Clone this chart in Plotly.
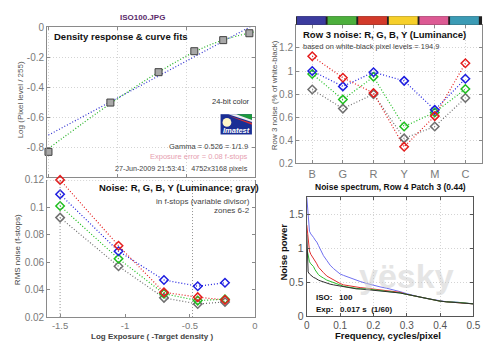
import plotly.graph_objects as go

W, H = 500, 353

# ---------------- data ----------------
exposure = [-1.5, -1.05, -0.70, -0.44, -0.23, -0.04]
log_pixel = [-0.832, -0.503, -0.30, -0.16, -0.086, -0.04]
fit_x = [-1.5, 0.0]
linear_fit = [-0.72, 0.02]
curve_fit_x = [-1.5, -1.05, -0.70, -0.44, -0.23, 0.0]
curve_fit = [-0.81, -0.51, -0.30, -0.165, -0.085, -0.03]

noise_exposure = [-1.5, -1.05, -0.70, -0.44, -0.23]
rms_red = [0.120, 0.072, 0.038, 0.0345, 0.0325]
rms_blue = [0.1095, 0.068, 0.047, 0.0425, 0.045]
rms_green = [0.101, 0.0625, 0.037, 0.032, 0.033]
rms_gray = [0.0925, 0.057, 0.034, 0.0295, 0.031]
zone_bounds = [-1.5, -0.48]

patches = ["B", "G", "R", "Y", "M", "C"]
patch_colors = ["#3b3b9e", "#4caf3c", "#d23a2a", "#f6cf2a", "#dc5a93", "#3b9bb5"]
row3_red = [1.128, 0.942, 0.81, 0.344, 0.61, 1.067]
row3_blue = [1.0, 0.867, 0.99, 0.915, 0.664, 0.933]
row3_green = [0.975, 0.753, 0.95, 0.52, 0.642, 0.844]
row3_gray = [0.84, 0.675, 0.80, 0.417, 0.52, 0.767]

freq = [0, 0.004, 0.008, 0.012, 0.016, 0.02, 0.025, 0.03, 0.035, 0.04, 0.045, 0.05,
        0.06, 0.07, 0.08, 0.09, 0.1, 0.11, 0.12, 0.13, 0.14, 0.15, 0.16, 0.18, 0.2,
        0.22, 0.24, 0.26, 0.28, 0.3, 0.32, 0.34, 0.36, 0.38, 0.4, 0.42, 0.44, 0.46, 0.48, 0.5]
spec_blue = [1.75, 1.45, 1.25, 1.21, 1.19, 1.16, 1.12, 1.09, 1.04, 0.99, 0.93, 0.89,
             0.82, 0.75, 0.70, 0.66, 0.62, 0.60, 0.58, 0.56, 0.54, 0.53, 0.51, 0.48, 0.45,
             0.43, 0.41, 0.39, 0.36, 0.33, 0.30, 0.28, 0.26, 0.24, 0.22, 0.21, 0.21, 0.20, 0.19, 0.18]
spec_red = [1.34, 1.10, 0.96, 0.91, 0.88, 0.86, 0.82, 0.77, 0.72, 0.69, 0.66, 0.64,
            0.59, 0.56, 0.53, 0.50, 0.48, 0.46, 0.45, 0.44, 0.43, 0.42, 0.42, 0.41, 0.40,
            0.39, 0.38, 0.36, 0.35, 0.32, 0.30, 0.28, 0.25, 0.24, 0.22, 0.21, 0.20, 0.20, 0.19, 0.18]
spec_green = [1.00, 0.88, 0.80, 0.77, 0.75, 0.73, 0.68, 0.64, 0.61, 0.59, 0.58, 0.56,
              0.53, 0.51, 0.49, 0.47, 0.45, 0.44, 0.43, 0.42, 0.41, 0.41, 0.40, 0.40, 0.39,
              0.38, 0.37, 0.36, 0.34, 0.32, 0.30, 0.28, 0.25, 0.23, 0.22, 0.21, 0.21, 0.20, 0.19, 0.18]
spec_black = [1.20, 0.65, 0.62, 0.60, 0.58, 0.57, 0.56, 0.54, 0.53, 0.52, 0.51, 0.50,
              0.48, 0.47, 0.46, 0.45, 0.44, 0.43, 0.42, 0.42, 0.41, 0.40, 0.40, 0.39, 0.39,
              0.38, 0.37, 0.36, 0.34, 0.32, 0.30, 0.27, 0.25, 0.23, 0.22, 0.21, 0.20, 0.20, 0.19, 0.18]

RED, BLUE, GREEN, GRAY = "#e41e1e", "#1e1ee0", "#1fbf1f", "#707070"
FONT = "Liberation Sans, Arial, sans-serif"
DOT = "1px,2px"


def px(x):
    return x / W


def py(y):
    return 1 - y / H


fig = go.Figure()

# ---------------- top-left: density response ----------------
fig.add_trace(go.Scatter(x=fit_x, y=linear_fit, mode="lines", xaxis="x", yaxis="y",
                         line=dict(color="#3030d0", width=1.2, dash=DOT)))
fig.add_trace(go.Scatter(x=curve_fit_x, y=curve_fit, mode="lines", xaxis="x", yaxis="y",
                         line=dict(color="#20b020", width=1.2, dash=DOT, shape="spline")))
fig.add_trace(go.Scatter(x=exposure, y=log_pixel, mode="markers", xaxis="x", yaxis="y",
                         cliponaxis=False,
                         marker=dict(symbol="square", size=7, color="#a8a8a8",
                                     line=dict(color="#404040", width=1))))

# ---------------- bottom-left: RMS noise ----------------
for vals, col in [(rms_gray, GRAY), (rms_green, GREEN), (rms_blue, BLUE), (rms_red, RED)]:
    fig.add_trace(go.Scatter(x=noise_exposure, y=vals, mode="lines+markers", xaxis="x3", yaxis="y3",
                             cliponaxis=False,
                             line=dict(color=col, width=1.2, dash=DOT),
                             marker=dict(symbol="diamond-open", size=6.5, color=col,
                                         line=dict(color=col, width=1.5))))

# ---------------- top-right: row 3 noise ----------------
for vals, col in [(row3_gray, GRAY), (row3_green, GREEN), (row3_blue, BLUE), (row3_red, RED)]:
    fig.add_trace(go.Scatter(x=patches, y=vals, mode="lines+markers", xaxis="x2", yaxis="y2",
                             line=dict(color=col, width=1.2, dash=DOT),
                             marker=dict(symbol="diamond-open", size=6.5, color=col,
                                         line=dict(color=col, width=1.5))))

# ---------------- bottom-right: noise spectrum ----------------
for vals, col in [(spec_blue, "#7070f0"), (spec_red, "#e03030"), (spec_green, "#30c030"),
                  (spec_black, "#303030")]:
    fig.add_trace(go.Scatter(x=freq, y=vals, mode="lines", xaxis="x4", yaxis="y4",
                             line=dict(color=col, width=1)))

axcol = "#8a8a8a"
tickfont = dict(family=FONT, size=10, color="#7a7a7a")
common = dict(showline=True, linecolor=axcol, linewidth=1, ticks="inside", ticklen=3,
              tickcolor=axcol, zeroline=False, tickfont=tickfont, griddash=DOT,
              gridcolor="#d4d4d4")

fig.update_layout(
    width=W, height=H, margin=dict(l=0, r=0, t=0, b=0),
    paper_bgcolor="white", plot_bgcolor="white", showlegend=False,
    font=dict(family=FONT),
    xaxis=dict(domain=[px(45), px(257)], range=[-1.51, 0], anchor="y", mirror="ticks",
               tickvals=[-1.5, -1, -0.5, 0], showticklabels=False, showgrid=True, **common),
    yaxis=dict(domain=[py(177), py(22)], range=[-1, 0], anchor="x", mirror="ticks",
               tickvals=[0, -0.2, -0.4, -0.6, -0.8], ticktext=["0", "-0.2", "-0.4", "-0.6", "-0.8"],
               showgrid=True, **common),
    xaxis2=dict(domain=[px(299), px(489)], range=[-0.53, 5.55], anchor="y2", type="category",
                mirror="ticks", showgrid=True,
                **{**common, "tickfont": dict(family=FONT, size=11, color="#7a7a7a")}),
    yaxis2=dict(domain=[py(163), py(19.5)], range=[0.2, 1.4], anchor="x2", mirror="ticks",
                tickvals=[0.2, 0.4, 0.6, 0.8, 1.0, 1.2], ticktext=["0.2", "0.4", "0.6", "0.8", "1", "1.2"],
                showgrid=True, **common),
    xaxis3=dict(domain=[px(45), px(257)], range=[-1.6, 0], anchor="y3", mirror=False,
                tickvals=[-1.5, -1, -0.5, 0], ticktext=["-1.5", "-1", "-0.5", "0"],
                showgrid=False, **{**common, "tickfont": dict(family=FONT, size=9.5, color="#7a7a7a")}),
    yaxis3=dict(domain=[py(322), py(180)], range=[0.02, 0.12], anchor="x3", mirror="ticks",
                tickvals=[0.02, 0.04, 0.06, 0.08, 0.1, 0.12],
                ticktext=["0.02", "0.04", "0.06", "0.08", "0.1", "0.12"],
                showgrid=False, **common),
    xaxis4=dict(domain=[px(310), px(480)], range=[0, 0.5], anchor="y4", mirror="ticks",
                tickvals=[0, 0.1, 0.2, 0.3, 0.4, 0.5], ticktext=["0", "0.1", "0.2", "0.3", "0.4", "0.5"],
                showgrid=True,
                **{**common, "linecolor": "#555", "tickcolor": "#555",
                   "tickfont": dict(family=FONT, size=10, color="#555")}),
    yaxis4=dict(domain=[py(321), py(198)], range=[0, 1.75], anchor="x4", mirror="ticks",
                tickvals=[0, 0.5, 1, 1.5], ticktext=["0", "0.5", "1", "1.5"],
                showgrid=True,
                **{**common, "linecolor": "#555", "tickcolor": "#555",
                   "tickfont": dict(family=FONT, size=10.5, color="#555")}),
)

shapes = []
# colour bar above row-3 plot
shapes.append(dict(type="rect", xref="x2", yref="paper", x0=-0.53, x1=5.55,
                   y0=py(19.3), y1=py(10.5), fillcolor="#202020", line=dict(width=0), layer="above"))
for i, c in enumerate(patch_colors):
    shapes.append(dict(type="rect", xref="x2", yref="paper", x0=i - 0.5, x1=i + 0.44,
                       y0=py(19.3), y1=py(10.5), fillcolor=c, line=dict(width=0), layer="above"))
# zone boundaries & top dotted line in noise plot
for zb in zone_bounds:
    shapes.append(dict(type="line", xref="x3", yref="y3", x0=zb, x1=zb, y0=0.02, y1=0.12,
                       line=dict(color="#909090", width=1, dash=DOT)))
shapes.append(dict(type="line", xref="x3", yref="y3", x0=-1.6, x1=0, y0=0.12, y1=0.12,
                   line=dict(color="#909090", width=1, dash=DOT)))
# Imatest logo
shapes.append(dict(type="rect", xref="paper", yref="paper", x0=px(222), x1=px(254),
                   y0=py(133), y1=py(112), fillcolor="#1a2f95", line=dict(width=0)))
shapes.append(dict(type="path", xref="paper", yref="paper",
                   path=f"M {px(238)} {py(112)} L {px(254)} {py(112)} L {px(254)} {py(118)} Z",
                   fillcolor="#1c9a3a", line=dict(width=0)))
shapes.append(dict(type="path", xref="paper", yref="paper",
                   path=f"M {px(230)} {py(112)} L {px(238)} {py(112)} L {px(254)} {py(118)} L {px(254)} {py(120)} Z",
                   fillcolor="#f0f0f0", line=dict(width=0)))
shapes.append(dict(type="path", xref="paper", yref="paper",
                   path=f"M {px(229)} {py(113)} L {px(254)} {py(121)} L {px(254)} {py(123)} Z",
                   fillcolor="#d83030", line=dict(width=0)))
shapes.append(dict(type="circle", xref="paper", yref="paper", x0=px(224), x1=px(233),
                   y0=py(125), y1=py(116), fillcolor="#fff6c8", line=dict(width=0)))
fig.update_layout(shapes=shapes)

ann = []


def T(x, y, text, size=8, color="#333", bold=False, xanchor="left", angle=0, italic=False, family=FONT,
      opacity=1.0):
    if bold:
        text = f"<b>{text}</b>"
    if italic:
        text = f"<i>{text}</i>"
    ann.append(dict(x=px(x), y=py(y), xref="paper", yref="paper", text=text, showarrow=False,
                    xanchor=xanchor, yanchor="middle", textangle=angle, opacity=opacity,
                    font=dict(family=family, size=size, color=color)))


T(142, 12, "ISO100.JPG", 8, "#5a2a6a", True, "center")
T(50, 32, "Density response &amp; curve fits", 9.5, "#111", True)
T(254, 99, "24-bit color", 7.5, "#333", xanchor="right")
T(238, 129, "Imatest", 7.5, "white", True, "center", italic=True)
T(252, 145, "Gamma = 0.526 = 1/1.9", 7.5, "#444", xanchor="right")
T(252, 156, "Exposure error = 0.08 f-stops", 7.5, "#e6a0b0", xanchor="right")
T(252, 168, "27-Jun-2009 21:53:41   4752x3168 pixels", 7.2, "#444", xanchor="right")
T(18, 97, "Log (Pixel level / 255)", 8, "#555", angle=-90, xanchor="center")

T(96, 188, "Noise: R, G, B, Y (Luminance; gray)", 9.5, "#111", True)
T(254, 202, "in f-stops (variable divisor)", 8, "#444", xanchor="right")
T(254, 212, "zones 6-2", 8, "#444", xanchor="right")
T(15, 252, "RMS noise (f-stops)", 8, "#444", angle=-90, xanchor="center")
T(152, 342, "Log Exposure ( -Target density )", 8, "#444", True, "center")

T(304, 30, "Row 3 noise: R, G, B, Y (Luminance)", 9.5, "#111", True)
T(304, 42, "based on white-black pixel levels = 194.9", 7.5, "#444")
T(277, 92, "Row 3 noise (% of white-black)", 8, "#555", angle=-90, xanchor="center")

T(395, 187, "Noise spectrum, Row 4 Patch 3 (0.44)", 8.5, "#111", True, "center")
T(317, 302, "ISO:   100", 8, "#111", True)
T(317, 314, "Exp:   0.017 s  (1/60)", 8, "#111", True)
T(286, 255, "Noise power", 9.5, "#111", True, "center", angle=-90)
T(393, 341, "Frequency, cycles/pixel", 9.5, "#111", True, "center")

# watermark
T(412, 280, "yësky", 34, "#cccccc", True, "center", opacity=0.5)

fig.update_layout(annotations=ann)
fig.write_html("out.html")
